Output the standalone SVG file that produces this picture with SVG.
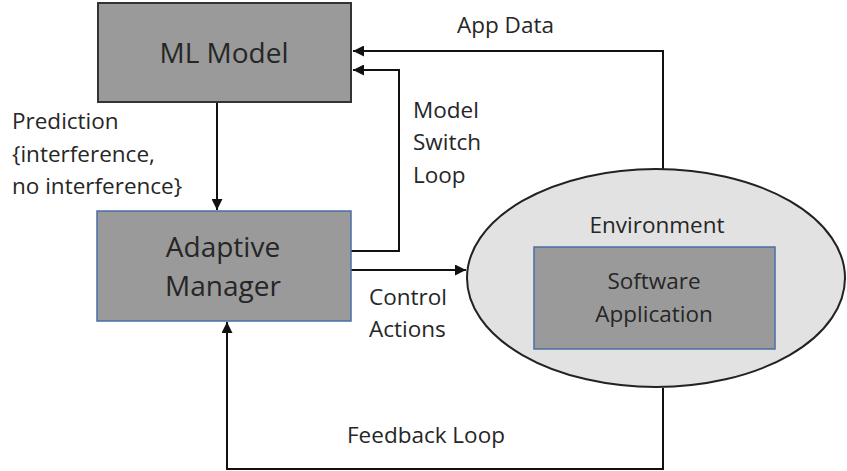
<svg xmlns="http://www.w3.org/2000/svg" width="847" height="471" viewBox="0 0 847 471">
<defs>
<marker id="ah" viewBox="0 0 10 10" refX="10" refY="5" markerWidth="11" markerHeight="11" markerUnits="userSpaceOnUse" orient="auto">
<path d="M0,0 L10,5 L0,10 Z" fill="#111"/>
</marker>
</defs>
<style>
text{font-family:"Open Sans","Noto Sans",sans-serif;fill:#262626}
.lbl{font-size:22.5px}
.big{font-size:28px;text-anchor:middle}
.mid{font-size:22.5px;text-anchor:middle}
.edge{fill:none;stroke:#111;stroke-width:2}
</style>
<rect width="847" height="471" fill="#fff"/>
<g id="connectors">
<path class="edge" d="M663,169 V51 H353" marker-end="url(#ah)"/>
<path class="edge" d="M351,251 H399 V70 H353" marker-end="url(#ah)"/>
<path class="edge" d="M217,102 V210" marker-end="url(#ah)"/>
<path class="edge" d="M351,270 H466" marker-end="url(#ah)"/>
<path class="edge" d="M663,388 V469 H227 V322" marker-end="url(#ah)"/>
</g>
<g id="labels">
<text class="lbl" x="457" y="33">App Data</text>
<text class="lbl" x="413" y="118">Model</text>
<text class="lbl" x="413" y="150">Switch</text>
<text class="lbl" x="413" y="183">Loop</text>
<text class="lbl" x="12" y="129">Prediction</text>
<text class="lbl" x="12" y="162">{interference,</text>
<text class="lbl" x="12" y="194">no interference}</text>
<text class="lbl" x="369" y="305">Control</text>
<text class="lbl" x="369" y="337">Actions</text>
<text class="lbl" x="347" y="443">Feedback Loop</text>
</g>
<g id="ml-model">
<rect x="98" y="3" width="253" height="99" fill="#9a9a9a" stroke="#333" stroke-width="2"/>
<text class="big" x="224" y="63">ML Model</text>
</g>
<g id="adaptive-manager">
<rect x="97" y="211" width="254" height="110" fill="#9a9a9a" stroke="#4a6fa5" stroke-width="1.5"/>
<text class="big" x="223" y="257">Adaptive</text>
<text class="big" x="223" y="296">Manager</text>
</g>
<g id="environment">
<ellipse cx="656" cy="278" rx="189" ry="109" fill="#e2e2e2" stroke="#222" stroke-width="2"/>
<text class="mid" x="657" y="233">Environment</text>
</g>
<g id="software-application">
<rect x="534" y="247" width="241" height="102" fill="#9a9a9a" stroke="#4a6fa5" stroke-width="1.5"/>
<text class="mid" x="654" y="289">Software</text>
<text class="mid" x="654" y="322">Application</text>
</g>
</svg>
